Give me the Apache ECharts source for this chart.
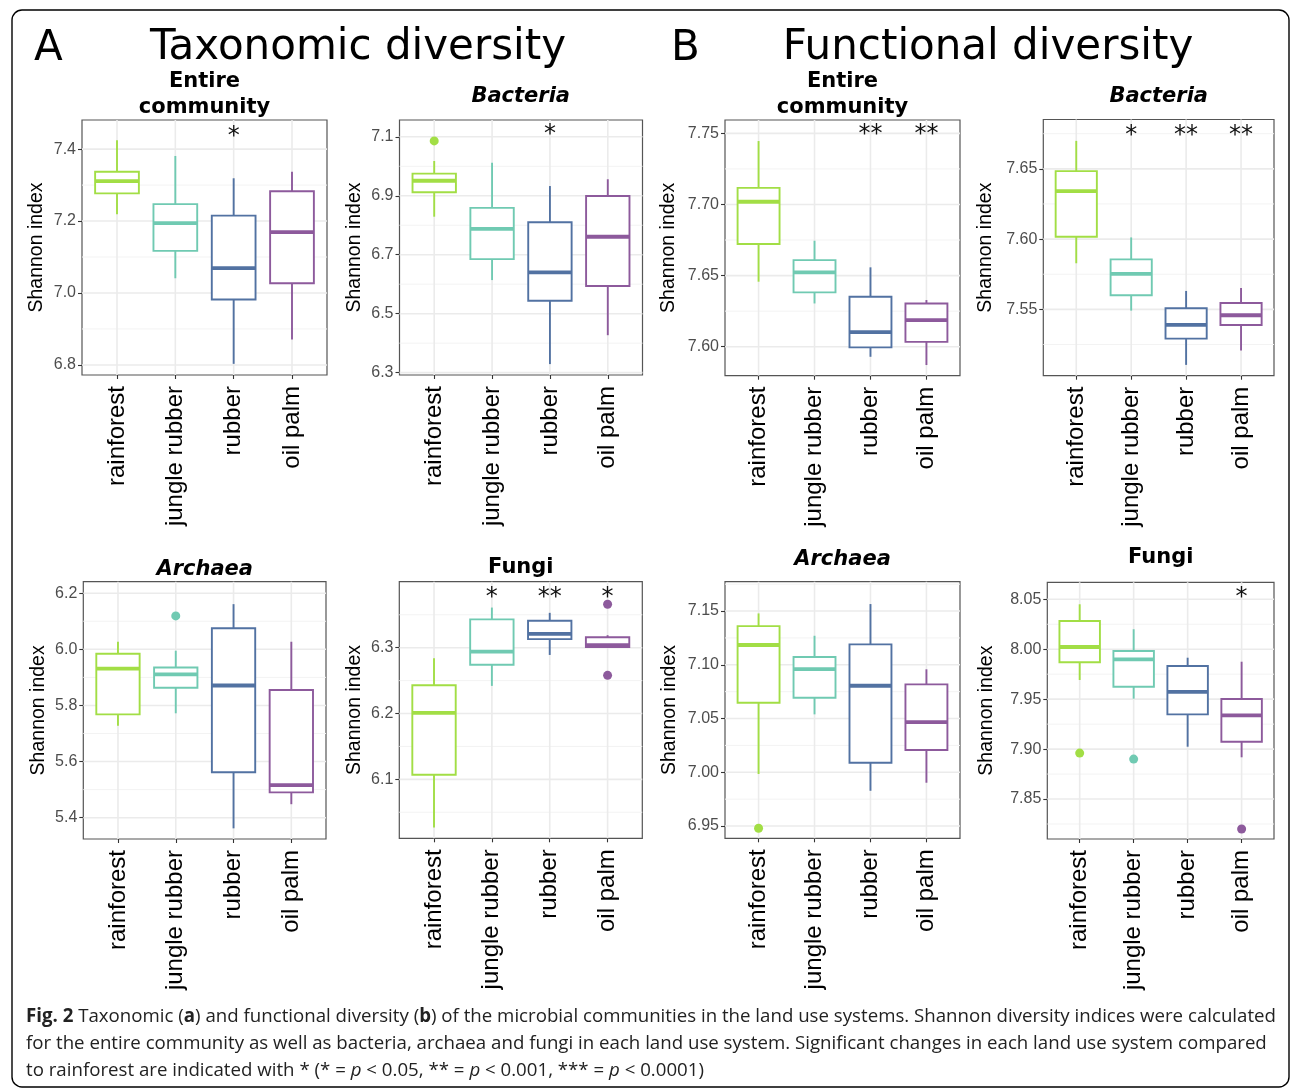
<!DOCTYPE html>
<html>
<head>
<meta charset="utf-8">
<script src="https://cdn.jsdelivr.net/npm/echarts@6/dist/echarts.min.js"></script>
<style>
  html, body { margin: 0; padding: 0; background: #fff; }
  #chart { width: 1290px; height: 1088px; }
</style>
</head>
<body>
<div id="chart"></div>
<script>
// Land use systems (x categories)
const categories = ['rainforest', 'jungle rubber', 'rubber', 'oil palm'];

// Five-number summaries per land use: [lower whisker, Q1, median, Q3, upper whisker]
// Taxonomic diversity
const taxEntire = [[7.219, 7.277, 7.311, 7.337, 7.425], [7.041, 7.117, 7.194, 7.247, 7.381], [6.803, 6.982, 7.069, 7.215, 7.319], [6.871, 7.027, 7.169, 7.283, 7.337]];
const taxBacteria = [[6.829, 6.912, 6.951, 6.975, 7.018], [6.614, 6.685, 6.788, 6.859, 7.012], [6.329, 6.544, 6.640, 6.810, 6.933], [6.427, 6.594, 6.761, 6.899, 6.956]];
const taxArchaea = [[5.728, 5.768, 5.931, 5.984, 6.027], [5.772, 5.863, 5.911, 5.935, 5.995], [5.362, 5.562, 5.871, 6.075, 6.161], [5.448, 5.490, 5.516, 5.855, 6.027]];
const taxFungi = [[6.027, 6.107, 6.201, 6.243, 6.284], [6.242, 6.274, 6.294, 6.343, 6.361], [6.289, 6.313, 6.321, 6.341, 6.353], [6.300, 6.301, 6.304, 6.316, 6.319]];
// Functional diversity
const funEntire = [[7.6457, 7.6722, 7.7019, 7.7117, 7.7446], [7.6304, 7.6382, 7.6522, 7.6609, 7.6745], [7.5929, 7.5995, 7.6103, 7.6351, 7.6558], [7.5871, 7.6034, 7.6187, 7.6304, 7.6328]];
const funBacteria = [[7.5828, 7.6017, 7.6342, 7.6484, 7.6699], [7.5491, 7.5600, 7.5752, 7.5856, 7.6012], [7.5105, 7.5292, 7.5389, 7.5508, 7.5631], [7.5207, 7.5389, 7.5458, 7.5545, 7.5652]];
const funArchaea = [[6.9984, 7.0647, 7.1184, 7.1360, 7.1478], [7.0539, 7.0694, 7.0960, 7.1072, 7.1270], [6.9828, 7.0089, 7.0805, 7.1190, 7.1565], [6.9903, 7.0207, 7.0467, 7.0818, 7.0958]];
const funFungi = [[7.9692, 7.9869, 8.0022, 8.0283, 8.0450], [7.9505, 7.9625, 7.9899, 7.9982, 8.0200], [7.9024, 7.9348, 7.9572, 7.9832, 7.9915], [7.8918, 7.9074, 7.9338, 7.9502, 7.9875]];

// Outliers: [category number (1-4), Shannon index]
const taxEntireOut = [];
const taxBacteriaOut = [[1, 7.086]];
const taxArchaeaOut = [[2, 6.119]];
const taxFungiOut = [[4, 6.366], [4, 6.258]];
const funEntireOut = [];
const funBacteriaOut = [];
const funArchaeaOut = [[1, 6.948]];
const funFungiOut = [[1, 7.896], [2, 7.890], [4, 7.820]];

// Significance versus rainforest
const taxEntireSig = ['', '', '*', ''];
const taxBacteriaSig = ['', '', '*', ''];
const taxArchaeaSig = ['', '', '', ''];
const taxFungiSig = ['', '*', '**', '*'];
const funEntireSig = ['', '', '**', '**'];
const funBacteriaSig = ['', '*', '**', '**'];
const funArchaeaSig = ['', '', '', ''];
const funFungiSig = ['', '', '', '*'];

// Y tick labels
const taxEntireTicks = [6.8, 7.0, 7.2, 7.4];
const taxBacteriaTicks = [6.3, 6.5, 6.7, 6.9, 7.1];
const taxArchaeaTicks = [5.4, 5.6, 5.8, 6.0, 6.2];
const taxFungiTicks = [6.1, 6.2, 6.3];
const funEntireTicks = [7.60, 7.65, 7.70, 7.75];
const funBacteriaTicks = [7.55, 7.60, 7.65];
const funArchaeaTicks = [6.95, 7.00, 7.05, 7.10, 7.15];
const funFungiTicks = [7.85, 7.90, 7.95, 8.00, 8.05];

const palette = ['#a2de45', '#70cab2', '#5272a2', '#8d5a9c'];
const FONT = 'Liberation Sans, Arial, sans-serif';
const TITLE_FONT = 'DejaVu Sans, sans-serif';

// Panel layout: plot rectangle [left, top, width, height], y range, label decimals, name gap
const panels = [
  { boxes: taxEntire, out: taxEntireOut, sig: taxEntireSig, sigY: 7.450, ticks: taxEntireTicks, range: [6.772, 7.481], dec: 1, rect: [82, 120, 245, 255], gap: 35 },
  { boxes: taxBacteria, out: taxBacteriaOut, sig: taxBacteriaSig, sigY: 7.126, ticks: taxBacteriaTicks, range: [6.292, 7.157], dec: 1, rect: [399.5, 120, 243, 255], gap: 35 },
  { boxes: funEntire, out: funEntireOut, sig: funEntireSig, sigY: 7.753, ticks: funEntireTicks, range: [7.5796, 7.7594], dec: 2, rect: [725, 120, 235, 255.7], gap: 46 },
  { boxes: funBacteria, out: funBacteriaOut, sig: funBacteriaSig, sigY: 7.678, ticks: funBacteriaTicks, range: [7.5028, 7.6851], dec: 2, rect: [1043.3, 119.5, 230.7, 256.2], gap: 48 },
  { boxes: taxArchaea, out: taxArchaeaOut, sig: taxArchaeaSig, sigY: 6.2, ticks: taxArchaeaTicks, range: [5.324, 6.241], dec: 1, rect: [83.3, 581.7, 242.7, 257.3], gap: 35 },
  { boxes: taxFungi, out: taxFungiOut, sig: taxFungiSig, sigY: 6.385, ticks: taxFungiTicks, range: [6.0104, 6.4003], dec: 1, rect: [399.3, 581.7, 243, 256.6], gap: 35 },
  { boxes: funArchaea, out: funArchaeaOut, sig: funArchaeaSig, sigY: 7.15, ticks: funArchaeaTicks, range: [6.9386, 7.1773], dec: 2, rect: [725, 581.7, 235, 256.6], gap: 45 },
  { boxes: funFungi, out: funFungiOut, sig: funFungiSig, sigY: 8.058, ticks: funFungiTicks, range: [7.810, 8.067], dec: 2, rect: [1047.3, 582.3, 226.7, 256.7], gap: 51 }
];

// Minor gridlines sit halfway between major ticks (and beyond them while inside the range)
function minorBreaks(ticks, range) {
  const step = ticks[1] - ticks[0];
  const res = [];
  for (let v = ticks[0] - step / 2; v <= range[1] + 1e-9; v += step) {
    if (v >= range[0]) res.push(+v.toFixed(4));
  }
  return res;
}

const grids = [], xAxes = [], yAxes = [], series = [];

panels.forEach((p, i) => {
  grids.push({
    left: p.rect[0], top: p.rect[1], width: p.rect[2], height: p.rect[3],
    show: true, borderColor: '#555', borderWidth: 1.2, backgroundColor: '#fff',
    containLabel: false, outerBoundsMode: 'none'
  });
  xAxes.push({
    gridIndex: i, type: 'value', min: 0.4, max: 4.6,
    axisLine: { show: false }, splitLine: { show: false },
    axisTick: { show: true, customValues: [1, 2, 3, 4], length: 4, lineStyle: { color: '#333', width: 1.1 } },
    axisLabel: {
      customValues: [1, 2, 3, 4], rotate: 90, margin: 11,
      formatter: v => categories[Math.round(v) - 1] || '',
      fontFamily: FONT, fontSize: 24, color: '#000'
    }
  });
  yAxes.push({
    gridIndex: i, type: 'value', min: p.range[0], max: p.range[1],
    axisLine: { show: false }, splitLine: { show: false },
    axisTick: { show: true, customValues: p.ticks, length: 4, lineStyle: { color: '#333', width: 1.1 } },
    axisLabel: {
      customValues: p.ticks, margin: 6,
      formatter: v => Number(v).toFixed(p.dec),
      fontFamily: FONT, fontSize: 16, color: '#4d4d4d'
    },
    name: 'Shannon index', nameLocation: 'middle', nameGap: p.gap, nameRotate: 90,
    nameTextStyle: { fontFamily: FONT, fontSize: 19.5, color: '#000' }
  });

  // Gridlines: kind 0 = major horizontal, 1 = minor horizontal, 2 = vertical at categories
  const gridData = []
    .concat(minorBreaks(p.ticks, p.range).map(v => [1, v]))
    .concat(p.ticks.map(v => [0, v]))
    .concat([1, 2, 3, 4].map(c => [2, c]));
  series.push({
    type: 'custom', xAxisIndex: i, yAxisIndex: i, silent: true, clip: false, z: 1,
    data: gridData,
    renderItem: (params, api) => {
      const cs = params.coordSys;
      const kind = api.value(0), v = api.value(1);
      if (kind === 2) {
        const px = api.coord([v, p.range[0]])[0];
        return { type: 'line', shape: { x1: px, y1: cs.y, x2: px, y2: cs.y + cs.height }, style: { stroke: '#ebebeb', lineWidth: 1.6 } };
      }
      const py = api.coord([1, v])[1];
      return {
        type: 'line', shape: { x1: cs.x, y1: py, x2: cs.x + cs.width, y2: py },
        style: { stroke: kind === 0 ? '#ebebeb' : '#f3f3f3', lineWidth: kind === 0 ? 1.6 : 1 }
      };
    }
  });

  // Boxes with whiskers and median
  series.push({
    type: 'custom', xAxisIndex: i, yAxisIndex: i, silent: true, z: 3,
    data: p.boxes.map((b, k) => [k + 1].concat(b)),
    renderItem: (params, api) => {
      const x = api.value(0);
      const col = palette[x - 1];
      const yy = [1, 2, 3, 4, 5].map(d => api.coord([x, api.value(d)])[1]);
      const cx = api.coord([x, api.value(3)])[0];
      const half = api.size([0.75, 0])[0] / 2;
      const lw = 1.9;
      return {
        type: 'group',
        children: [
          { type: 'line', shape: { x1: cx, y1: yy[0], x2: cx, y2: yy[1] }, style: { stroke: col, lineWidth: lw } },
          { type: 'line', shape: { x1: cx, y1: yy[3], x2: cx, y2: yy[4] }, style: { stroke: col, lineWidth: lw } },
          { type: 'rect', shape: { x: cx - half, y: yy[3], width: half * 2, height: yy[1] - yy[3] }, style: { fill: '#fff', stroke: col, lineWidth: lw } },
          { type: 'line', shape: { x1: cx - half, y1: yy[2], x2: cx + half, y2: yy[2] }, style: { stroke: col, lineWidth: 3.8 } }
        ]
      };
    }
  });

  // Outlying samples
  series.push({
    type: 'scatter', xAxisIndex: i, yAxisIndex: i, silent: true, z: 4,
    symbolSize: 9,
    itemStyle: { opacity: 1, color: params => palette[params.value[0] - 1] },
    data: p.out.map(o => [o[0], o[1]])
  });

  // Significance stars
  const stars = p.sig.map((s, k) => [k + 1, p.sigY, s]).filter(d => d[2]);
  series.push({
    type: 'custom', xAxisIndex: i, yAxisIndex: i, silent: true, clip: false, z: 5,
    data: stars.map(d => [d[0], d[1]]),
    renderItem: (params, api) => {
      const pt = api.coord([api.value(0), api.value(1)]);
      return {
        type: 'text', x: pt[0], y: pt[1] + 6,
        style: { text: stars[params.dataIndex][2], font: '24px DejaVu Sans', fill: '#111', align: 'center', verticalAlign: 'middle', textAlign: 'center', textVerticalAlign: 'middle' }
      };
    }
  });
});

// Texts: headings, panel titles and figure caption
function txt(text, x, y, font, align, extra) {
  return Object.assign({
    type: 'text', x: x, y: y, silent: true,
    style: { text: text, font: font, fill: '#000', align: align, textAlign: align, verticalAlign: 'middle', textVerticalAlign: 'middle' }
  }, extra || {});
}

const graphics = [
  { type: 'rect', silent: true, shape: { x: 12, y: 10, width: 1277, height: 1077, r: 10 }, style: { fill: 'none', stroke: '#000', lineWidth: 1.4 } },
  txt('A', 34, 49, '42px ' + TITLE_FONT, 'left'),
  txt('Taxonomic diversity', 358, 48, '42px ' + TITLE_FONT, 'center'),
  txt('B', 671, 49, '42px ' + TITLE_FONT, 'left'),
  txt('Functional diversity', 988, 48, '42px ' + TITLE_FONT, 'center'),
  txt('Entire', 204.5, 81.5, 'bold 21px ' + TITLE_FONT, 'center'),
  txt('community', 204.5, 108, 'bold 21px ' + TITLE_FONT, 'center'),
  txt('Bacteria', 520.7, 96.5, 'italic bold 21px ' + TITLE_FONT, 'center'),
  txt('Entire', 842.5, 81.5, 'bold 21px ' + TITLE_FONT, 'center'),
  txt('community', 842.5, 108, 'bold 21px ' + TITLE_FONT, 'center'),
  txt('Bacteria', 1158.7, 96.5, 'italic bold 21px ' + TITLE_FONT, 'center'),
  txt('Archaea', 204.7, 569.5, 'italic bold 21px ' + TITLE_FONT, 'center'),
  txt('Fungi', 520.8, 568, 'bold 21px ' + TITLE_FONT, 'center'),
  txt('Archaea', 842.5, 559.5, 'italic bold 21px ' + TITLE_FONT, 'center'),
  txt('Fungi', 1160.7, 557.5, 'bold 21px ' + TITLE_FONT, 'center')
];

// Caption, set in a narrow rendering of Open Sans
const CAP_FONT = 'Open Sans, Noto Sans, sans-serif';
const CAP_SIZE = 19;
const capLines = [
  [['b', 'Fig. 2'], ['n', ' Taxonomic ('], ['b', 'a'], ['n', ') and functional diversity ('], ['b', 'b'], ['n', ') of the microbial communities in the land use systems. Shannon diversity indices were calculated']],
  [['n', 'for the entire community as well as bacteria, archaea and fungi in each land use system. Significant changes in each land use system compared']],
  [['n', 'to rainforest are indicated with * (* = '], ['i', 'p'], ['n', ' < 0.05, ** = '], ['i', 'p'], ['n', ' < 0.001, *** = '], ['i', 'p'], ['n', ' < 0.0001)']]
];
const capStyles = {
  n: { fontFamily: CAP_FONT, fontSize: CAP_SIZE, fontWeight: 'normal', fill: '#222' },
  b: { fontFamily: CAP_FONT, fontSize: CAP_SIZE, fontWeight: 'bold', fill: '#222' },
  i: { fontFamily: CAP_FONT, fontSize: CAP_SIZE, fontStyle: 'italic', fill: '#222' }
};
const measureCtx = document.createElement('canvas').getContext('2d');
function lineWidth(line) {
  return line.reduce((w, seg) => {
    const s = capStyles[seg[0]];
    measureCtx.font = (s.fontStyle || 'normal') + ' ' + s.fontWeight + ' ' + CAP_SIZE + 'px ' + CAP_FONT;
    return w + measureCtx.measureText(seg[1]).width;
  }, 0);
}
const capScale = 1250 / lineWidth(capLines[0]);
capLines.forEach((line, k) => {
  graphics.push({
    type: 'text', x: 26, y: 1017 + k * 27, scaleX: capScale, silent: true,
    style: {
      text: line.map(seg => '{' + seg[0] + '|' + seg[1] + '}').join(''),
      rich: capStyles, verticalAlign: 'middle', textVerticalAlign: 'middle', align: 'left', textAlign: 'left'
    }
  });
});

const chart = echarts.init(document.getElementById('chart'), null, { renderer: 'canvas' });
chart.setOption({
  animation: false,
  backgroundColor: '#fff',
  grid: grids,
  xAxis: xAxes,
  yAxis: yAxes,
  series: series,
  graphic: { elements: graphics }
});
</script>
</body>
</html>
